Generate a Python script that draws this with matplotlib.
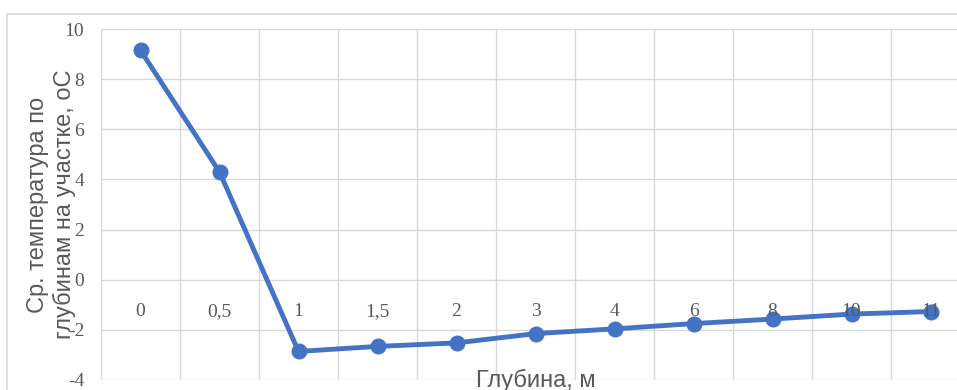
import matplotlib.pyplot as plt
from matplotlib.patches import Rectangle
from matplotlib.ticker import MultipleLocator, FixedLocator

plt.rcParams["axes.unicode_minus"] = False

# средняя температура по глубинам
depths = ["0", "0,5", "1", "1,5", "2", "3", "4", "6", "8", "10", "11"]
temps = [9.15, 4.3, -2.86, -2.66, -2.52, -2.15, -1.96, -1.75, -1.57, -1.37, -1.27]

grey = "#595959"
grid = "#D9D9D9"
blue = "#4472C4"

fig = plt.figure(figsize=(9.57, 3.9), dpi=100)
# plot area runs past the right edge of the picture
ax = fig.add_axes([101 / 957, 10 / 390, 869 / 957, 351 / 390])

# chart frame
fig.patches.append(Rectangle((6.5 / 957, -0.05), 1.0, 376 / 390 + 0.05,
                             transform=fig.transFigure, fill=False,
                             edgecolor=grid, linewidth=1.2))

x = list(range(len(depths)))
ax.plot(x, temps, color=blue, linewidth=3.5, marker="o", markersize=10.5,
        zorder=3)

ax.set_xlim(-0.5, len(depths) - 0.5)
ax.set_ylim(-4, 10)
ax.yaxis.set_major_locator(MultipleLocator(2))
ax.xaxis.set_major_locator(FixedLocator([i - 0.5 for i in range(len(depths) + 1)]))
ax.xaxis.set_major_formatter(plt.NullFormatter())
ax.grid(True, color=grid, linewidth=1)
ax.set_axisbelow(True)
for s in ax.spines.values():
    s.set_visible(False)
ax.tick_params(length=0)
ax.tick_params(axis="y", pad=12, labelcolor=grey, labelsize=14)
for lbl in ax.get_yticklabels():
    lbl.set_family("Liberation Serif")

# подписи категорий у нулевой линии
for i, d in enumerate(depths):
    ax.annotate(d, (i, 0), xytext=(0, -23), textcoords="offset points",
                ha="center", va="center", fontsize=14, color=grey,
                family="Liberation Serif")

ax.set_ylabel("Ср. температура по\nглубинам на участке, оС", color=grey,
              fontsize=17, family="Liberation Sans", linespacing=1.2)
ax.yaxis.label.set_va("center")
ax.yaxis.set_label_coords(-0.057, 0.5)
ax.text(0.5, 0, "Глубина, м", transform=ax.transAxes, ha="center",
        va="center", fontsize=17, color=grey, family="Liberation Sans")

fig.savefig("out.png", dpi=100)
